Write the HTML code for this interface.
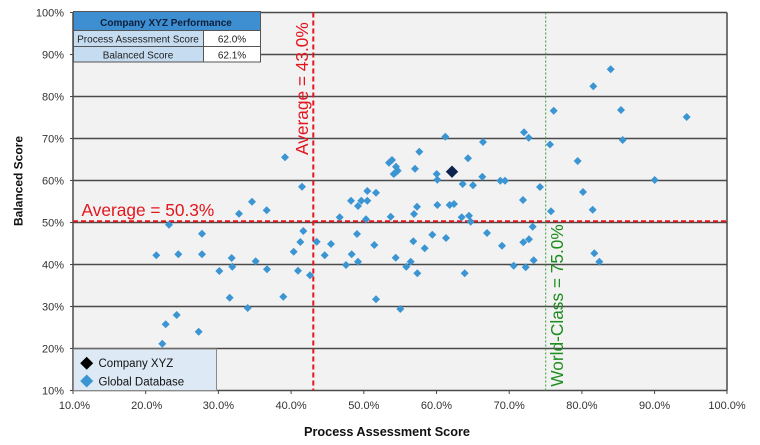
<!DOCTYPE html>
<html><head><meta charset="utf-8"><style>
html,body{margin:0;padding:0;background:#fff;}
svg{display:block;font-family:"Liberation Sans",Arial,sans-serif;}
</style></head><body>
<svg width="760" height="445" viewBox="0 0 760 445" xmlns="http://www.w3.org/2000/svg">
<defs>
<path id="d" d="M0,-4 L4,0 L0,4 L-4,0 Z" fill="#3b95d3"/>
</defs>
<!-- plot area -->
<rect x="73" y="12.5" width="654" height="378" fill="#f2f2f2"/>
<g stroke="#4a4a4a" stroke-width="1.5">
<line x1="73" y1="12.5" x2="727" y2="12.5"/>
<line x1="73" y1="54.5" x2="727" y2="54.5"/>
<line x1="73" y1="96.5" x2="727" y2="96.5"/>
<line x1="73" y1="138.5" x2="727" y2="138.5"/>
<line x1="73" y1="180.5" x2="727" y2="180.5"/>
<line x1="73" y1="222.5" x2="727" y2="222.5"/>
<line x1="73" y1="264.5" x2="727" y2="264.5"/>
<line x1="73" y1="306.5" x2="727" y2="306.5"/>
<line x1="73" y1="348.5" x2="727" y2="348.5"/>
<line x1="73" y1="390.5" x2="727" y2="390.5"/>
<line x1="73" y1="12.5" x2="73" y2="390.5"/>
<line x1="727" y1="12.5" x2="727" y2="390.5"/>
</g>
<!-- ticks -->
<g stroke="#4a4a4a" stroke-width="1">
<line x1="70" y1="12.5" x2="73" y2="12.5"/><line x1="70" y1="54.5" x2="73" y2="54.5"/><line x1="70" y1="96.5" x2="73" y2="96.5"/><line x1="70" y1="138.5" x2="73" y2="138.5"/><line x1="70" y1="180.5" x2="73" y2="180.5"/><line x1="70" y1="222.5" x2="73" y2="222.5"/><line x1="70" y1="264.5" x2="73" y2="264.5"/><line x1="70" y1="306.5" x2="73" y2="306.5"/><line x1="70" y1="348.5" x2="73" y2="348.5"/><line x1="70" y1="390.5" x2="73" y2="390.5"/>
<line x1="73" y1="390.5" x2="73" y2="394"/><line x1="145.7" y1="390.5" x2="145.7" y2="394"/><line x1="218.4" y1="390.5" x2="218.4" y2="394"/><line x1="291.1" y1="390.5" x2="291.1" y2="394"/><line x1="363.8" y1="390.5" x2="363.8" y2="394"/><line x1="436.5" y1="390.5" x2="436.5" y2="394"/><line x1="509.2" y1="390.5" x2="509.2" y2="394"/><line x1="581.9" y1="390.5" x2="581.9" y2="394"/><line x1="654.6" y1="390.5" x2="654.6" y2="394"/><line x1="727" y1="390.5" x2="727" y2="394"/>
</g>
<!-- y labels -->
<g font-size="11" fill="#333" text-anchor="end">
<text x="64" y="16.5">100%</text><text x="64" y="58.5">90%</text><text x="64" y="100.5">80%</text><text x="64" y="142.5">70%</text><text x="64" y="184.5">60%</text><text x="64" y="226.5">50%</text><text x="64" y="268.5">40%</text><text x="64" y="310.5">30%</text><text x="64" y="352.5">20%</text><text x="64" y="394.5">10%</text>
</g>
<!-- x labels -->
<g font-size="11" fill="#333" text-anchor="middle">
<text x="74.5" y="409">10.0%</text><text x="146.7" y="409">20.0%</text><text x="218.4" y="409">30.0%</text><text x="291.1" y="409">40.0%</text><text x="363.8" y="409">50.0%</text><text x="436.5" y="409">60.0%</text><text x="509.2" y="409">70.0%</text><text x="581.9" y="409">80.0%</text><text x="654.6" y="409">90.0%</text><text x="727" y="409">100.0%</text>
</g>
<text x="387" y="436" font-size="12.7" font-weight="bold" fill="#111" text-anchor="middle">Process Assessment Score</text>
<text transform="translate(22.5,181) rotate(-90)" font-size="12" font-weight="bold" fill="#111" text-anchor="middle">Balanced Score</text>

<!-- reference lines -->
<line x1="73" y1="221.3" x2="727" y2="221.3" stroke="#e3161e" stroke-width="2" stroke-dasharray="5,3"/>
<line x1="313.3" y1="12.5" x2="313.3" y2="390.5" stroke="#e3161e" stroke-width="2" stroke-dasharray="5,3"/>
<line x1="545.7" y1="12.5" x2="545.7" y2="390.5" stroke="#3a9a3a" stroke-width="1" stroke-dasharray="2,2"/>
<text x="81.5" y="216" font-size="17.3" fill="#e3161e">Average = 50.3%</text>
<text transform="translate(308,155) rotate(-90)" font-size="17.3" fill="#e3161e">Average = 43.0%</text>
<text transform="translate(563,386.7) rotate(-90)" font-size="17.3" fill="#1e8c1e">World-Class = 75.0%</text>

<!-- data points -->
<g>
<use href="#d" x="302" y="186.7"/><use href="#d" x="252" y="201.7"/><use href="#d" x="239" y="213.7"/><use href="#d" x="266.7" y="210.3"/><use href="#d" x="169" y="224.7"/><use href="#d" x="202" y="233.7"/><use href="#d" x="303.3" y="231"/><use href="#d" x="300.3" y="242"/><use href="#d" x="316.7" y="241.7"/><use href="#d" x="156.3" y="255.3"/><use href="#d" x="178.3" y="254.3"/><use href="#d" x="202" y="254.3"/><use href="#d" x="231.7" y="258"/><use href="#d" x="293.7" y="251.7"/><use href="#d" x="255.7" y="261.3"/><use href="#d" x="232.3" y="266.7"/><use href="#d" x="219.3" y="271"/><use href="#d" x="267" y="269.3"/><use href="#d" x="298" y="270.7"/><use href="#d" x="310" y="275.3"/><use href="#d" x="229.7" y="297.7"/><use href="#d" x="283.3" y="296.7"/><use href="#d" x="247.7" y="308"/><use href="#d" x="176.7" y="315"/><use href="#d" x="165.7" y="324.3"/><use href="#d" x="198.7" y="331.7"/><use href="#d" x="162.3" y="343.7"/>
<use href="#d" x="445.3" y="136.7"/><use href="#d" x="524" y="132.3"/><use href="#d" x="528.7" y="137.7"/><use href="#d" x="483" y="142"/><use href="#d" x="419.3" y="151.7"/><use href="#d" x="468" y="158.3"/>
<use href="#d" x="389" y="162.7"/><use href="#d" x="392" y="160"/><use href="#d" x="396" y="166.7"/><use href="#d" x="397.7" y="170.7"/><use href="#d" x="393.7" y="174"/><use href="#d" x="395.3" y="172.7"/>
<use href="#d" x="415" y="168.7"/><use href="#d" x="436.7" y="174"/><use href="#d" x="437.3" y="179.7"/><use href="#d" x="462.7" y="184"/><use href="#d" x="473" y="185.3"/><use href="#d" x="482.3" y="176.7"/><use href="#d" x="500.3" y="180.7"/><use href="#d" x="505" y="180.7"/><use href="#d" x="540" y="187"/><use href="#d" x="550" y="144.5"/>
<use href="#d" x="367.3" y="191"/><use href="#d" x="376" y="192.7"/><use href="#d" x="351" y="200.7"/><use href="#d" x="361.3" y="200.7"/><use href="#d" x="367.3" y="200.7"/><use href="#d" x="358" y="206"/><use href="#d" x="417" y="206.7"/><use href="#d" x="414" y="214"/><use href="#d" x="437.3" y="205"/><use href="#d" x="449.7" y="205"/><use href="#d" x="454" y="204"/><use href="#d" x="523" y="200"/><use href="#d" x="390.7" y="216.7"/><use href="#d" x="339.7" y="217.3"/><use href="#d" x="366" y="219.3"/><use href="#d" x="461.7" y="217.3"/><use href="#d" x="469" y="215.7"/><use href="#d" x="470.7" y="221.7"/><use href="#d" x="551" y="211.3"/>
<use href="#d" x="357" y="234"/><use href="#d" x="331" y="244"/><use href="#d" x="324.7" y="255.3"/><use href="#d" x="346" y="265"/><use href="#d" x="351.7" y="254.3"/><use href="#d" x="358" y="261.7"/><use href="#d" x="374.3" y="245"/><use href="#d" x="413.3" y="241.3"/><use href="#d" x="424.7" y="248.3"/><use href="#d" x="432.3" y="234.7"/><use href="#d" x="446" y="238"/><use href="#d" x="487" y="233"/><use href="#d" x="502" y="245.7"/><use href="#d" x="532.7" y="226.7"/><use href="#d" x="529" y="239.3"/><use href="#d" x="523.3" y="242.3"/><use href="#d" x="395.7" y="257.7"/><use href="#d" x="406.3" y="266.7"/><use href="#d" x="410.7" y="261.7"/><use href="#d" x="417.3" y="273.3"/><use href="#d" x="464.7" y="273.3"/><use href="#d" x="513.7" y="265.7"/><use href="#d" x="525.7" y="267.3"/><use href="#d" x="533.7" y="260.3"/><use href="#d" x="376" y="299.3"/><use href="#d" x="400.3" y="309"/>
<use href="#d" x="610.7" y="69.3"/><use href="#d" x="593.3" y="86.3"/><use href="#d" x="553.7" y="110.7"/><use href="#d" x="621" y="110"/><use href="#d" x="686.7" y="117"/><use href="#d" x="622.7" y="140"/><use href="#d" x="577.7" y="161"/><use href="#d" x="654.7" y="180"/><use href="#d" x="583" y="192"/><use href="#d" x="592.7" y="209.7"/><use href="#d" x="594.3" y="253.3"/><use href="#d" x="599.3" y="261.7"/><use href="#d" x="285" y="157.3"/>
</g>
<!-- Company XYZ -->
<path d="M452,165.5 L458.2,171.7 L452,177.9 L445.8,171.7 Z" fill="#0c2350"/>

<!-- table -->
<g stroke="#555" stroke-width="1">
<rect x="73.5" y="11.5" width="187" height="19" fill="#3d8fd1"/>
<rect x="73.5" y="30.5" width="130" height="16" fill="#c6dcf1"/>
<rect x="203.5" y="30.5" width="57" height="16" fill="#ffffff"/>
<rect x="73.5" y="46.5" width="130" height="15.5" fill="#c6dcf1"/>
<rect x="203.5" y="46.5" width="57" height="15.5" fill="#ffffff"/>
</g>
<text x="166" y="26" font-size="10" font-weight="bold" fill="#0d1f3c" text-anchor="middle">Company XYZ Performance</text>
<text x="138" y="42.5" font-size="10" fill="#222" text-anchor="middle">Process Assessment Score</text>
<text x="232" y="42.5" font-size="10" fill="#222" text-anchor="middle">62.0%</text>
<text x="138" y="58.5" font-size="10" fill="#222" text-anchor="middle">Balanced Score</text>
<text x="232" y="58.5" font-size="10" fill="#222" text-anchor="middle">62.1%</text>

<!-- legend -->
<rect x="73.5" y="349" width="143" height="41.5" fill="#dde9f5" stroke="#8a8a8a" stroke-width="1"/>
<path d="M86.7,356.8 L93.2,363.3 L86.7,369.8 L80.2,363.3 Z" fill="#000"/>
<path d="M86.7,374.5 L93.2,381 L86.7,387.5 L80.2,381 Z" fill="#3b95d3"/>
<text x="98.5" y="367" font-size="11.5" fill="#111">Company XYZ</text>
<text x="98.5" y="385.5" font-size="11.5" fill="#111">Global Database</text>
</svg>
</body></html>
